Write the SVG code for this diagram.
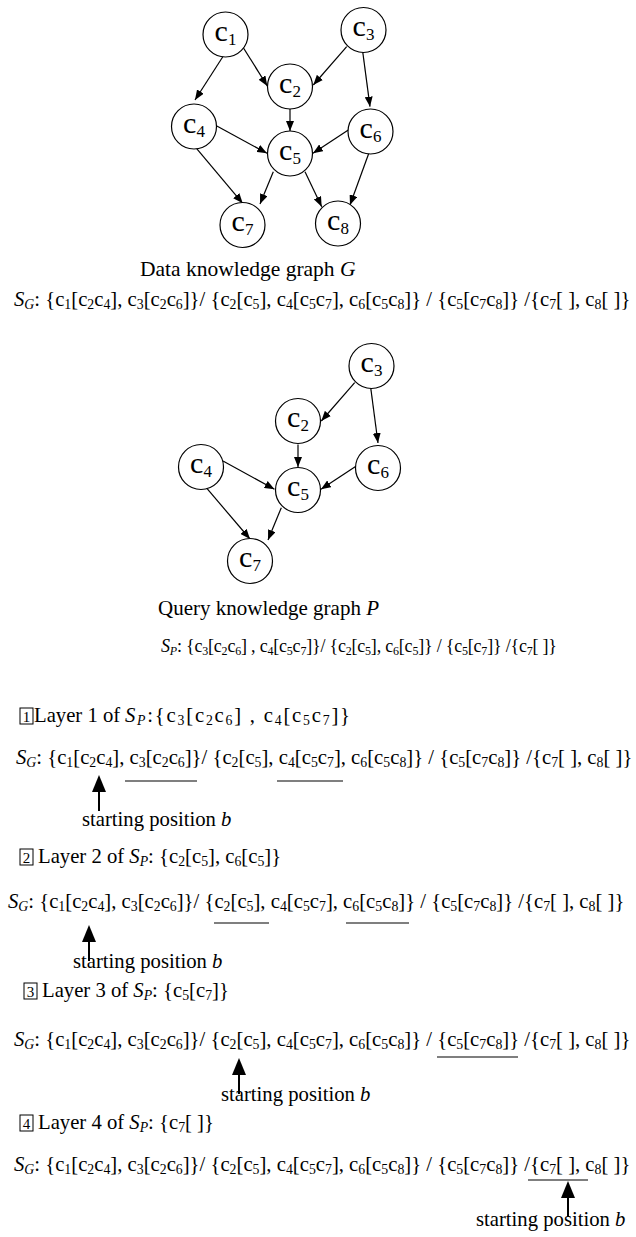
<svg xmlns="http://www.w3.org/2000/svg" width="636" height="1237" viewBox="0 0 636 1237" font-family="'Liberation Serif', 'Times New Roman', serif">
  <style>
    text, tspan { font-family: "Liberation Serif", "Times New Roman", serif; fill: #000; }
    .lbl { font-size: 30px; text-anchor: middle; }
    .ls { font-size: 17px; baseline-shift: -4px; }
    .ttl { font-size: 21.5px; }
    .ttq { font-size: 21px; }
    .t { font-size: 20.7px; }
    .tp { font-size: 18px; }
    .i { font-style: italic; }
    .s { font-size: 13.8px; baseline-shift: -3px; }
    .si { font-size: 13.8px; font-style: italic; baseline-shift: -3px; }
    .tp .s, .tp .si { font-size: 12px; baseline-shift: -2.6px; }
    .node circle { fill: #fff; stroke: #000; stroke-width: 1.2; }
    .edge { stroke: #000; stroke-width: 1.2; fill: none; marker-end: url(#arr); }
    .ul { stroke: #000; stroke-width: 1.2; }
    .bx { fill: none; stroke: #000; stroke-width: 1; }
    .bd { font-size: 15px; text-anchor: middle; }
    .ptr { stroke: #000; stroke-width: 2; fill: none; }
  </style>
  <defs>
    <marker id="arr" viewBox="0 0 10 8" refX="10" refY="4" markerWidth="10" markerHeight="8" markerUnits="userSpaceOnUse" orient="auto">
      <path d="M0,0 L10,4 L0,8 Z" fill="#000"/>
    </marker>
    <!-- upward pointer with a filled head -->
    <g id="ptr">
      <path d="M0,0 L7,17 L-7,17 Z" fill="#000"/>
      <line class="ptr" x1="0" y1="16" x2="0" y2="36"/>
    </g>
    <!-- S_G sequence, reused in every layer -->
    <text id="sg" class="t" x="0" y="0"><tspan class="i">S</tspan><tspan class="si">G</tspan>: {c<tspan class="s">1</tspan>[c<tspan class="s">2</tspan>c<tspan class="s">4</tspan>], c<tspan class="s">3</tspan>[c<tspan class="s">2</tspan>c<tspan class="s">6</tspan>]}/ {c<tspan class="s">2</tspan>[c<tspan class="s">5</tspan>], c<tspan class="s">4</tspan>[c<tspan class="s">5</tspan>c<tspan class="s">7</tspan>], c<tspan class="s">6</tspan>[c<tspan class="s">5</tspan>c<tspan class="s">8</tspan>]} / {c<tspan class="s">5</tspan>[c<tspan class="s">7</tspan>c<tspan class="s">8</tspan>]} /{c<tspan class="s">7</tspan>[ ], c<tspan class="s">8</tspan>[ ]}</text>
    <text id="sptr" class="t" x="0" y="0">starting position <tspan class="i">b</tspan></text>
  </defs>

  <!-- Data knowledge graph G -->
  <g id="connectors-G">
    <line class="edge" x1="223.3" y1="56" x2="195" y2="100"/>
    <line class="edge" x1="242.7" y1="46.7" x2="267.3" y2="86"/>
    <line class="edge" x1="346.7" y1="46.7" x2="313.3" y2="85"/>
    <line class="edge" x1="362.7" y1="51.7" x2="370" y2="106.7"/>
    <line class="edge" x1="290" y1="108.5" x2="290" y2="131"/>
    <line class="edge" x1="215" y1="125" x2="267" y2="153.3"/>
    <line class="edge" x1="348.3" y1="130" x2="313" y2="153.3"/>
    <line class="edge" x1="195" y1="146.7" x2="242.7" y2="203.3"/>
    <line class="edge" x1="273.3" y1="171.7" x2="260" y2="204"/>
    <line class="edge" x1="305" y1="171.7" x2="321.7" y2="206.7"/>
    <line class="edge" x1="370" y1="150" x2="350" y2="205"/>
  </g>
  <g id="G-c1" class="node"><circle cx="225.5" cy="34.5" r="22.5"/><text class="lbl" x="225.5" y="40.5">c<tspan class="ls">1</tspan></text></g>
  <g id="G-c2" class="node"><circle cx="290" cy="86.5" r="22.5"/><text class="lbl" x="290" y="92.5">c<tspan class="ls">2</tspan></text></g>
  <g id="G-c3" class="node"><circle cx="363.5" cy="30" r="22.5"/><text class="lbl" x="363.5" y="36">c<tspan class="ls">3</tspan></text></g>
  <g id="G-c4" class="node"><circle cx="194" cy="126.5" r="22.5"/><text class="lbl" x="194" y="132.5">c<tspan class="ls">4</tspan></text></g>
  <g id="G-c5" class="node"><circle cx="290" cy="153.5" r="22.5"/><text class="lbl" x="290" y="159.5">c<tspan class="ls">5</tspan></text></g>
  <g id="G-c6" class="node"><circle cx="370.5" cy="131.5" r="22.5"/><text class="lbl" x="370.5" y="137.5">c<tspan class="ls">6</tspan></text></g>
  <g id="G-c7" class="node"><circle cx="242.5" cy="225" r="22.5"/><text class="lbl" x="242.5" y="231">c<tspan class="ls">7</tspan></text></g>
  <g id="G-c8" class="node"><circle cx="338" cy="223.5" r="22.5"/><text class="lbl" x="338" y="229.5">c<tspan class="ls">8</tspan></text></g>
  <text class="ttl" x="140" y="276">Data knowledge graph <tspan class="i">G</tspan></text>
  <use href="#sg" x="14" y="306"/>

  <!-- Query knowledge graph P -->
  <g id="connectors-P">
    <line class="edge" x1="354.7" y1="382.7" x2="321.3" y2="421"/>
    <line class="edge" x1="370.7" y1="387.7" x2="378" y2="443"/>
    <line class="edge" x1="298" y1="444.5" x2="298" y2="467"/>
    <line class="edge" x1="223" y1="461" x2="274.5" y2="489.3"/>
    <line class="edge" x1="356.3" y1="466" x2="321" y2="489.3"/>
    <line class="edge" x1="202" y1="482.7" x2="250" y2="539"/>
    <line class="edge" x1="281.3" y1="507.7" x2="268" y2="540"/>
  </g>
  <g id="P-c3" class="node"><circle cx="371.5" cy="366" r="22.5"/><text class="lbl" x="371.5" y="372">c<tspan class="ls">3</tspan></text></g>
  <g id="P-c2" class="node"><circle cx="298" cy="421" r="22.5"/><text class="lbl" x="298" y="427">c<tspan class="ls">2</tspan></text></g>
  <g id="P-c4" class="node"><circle cx="201" cy="467" r="22.5"/><text class="lbl" x="201" y="473">c<tspan class="ls">4</tspan></text></g>
  <g id="P-c5" class="node"><circle cx="298" cy="490" r="22.5"/><text class="lbl" x="298" y="496">c<tspan class="ls">5</tspan></text></g>
  <g id="P-c6" class="node"><circle cx="378" cy="468" r="22.5"/><text class="lbl" x="378" y="474">c<tspan class="ls">6</tspan></text></g>
  <g id="P-c7" class="node"><circle cx="250" cy="561" r="22.5"/><text class="lbl" x="250" y="567">c<tspan class="ls">7</tspan></text></g>
  <text class="ttq" x="158" y="615">Query knowledge graph <tspan class="i">P</tspan></text>
  <text class="tp" x="161" y="652" textLength="396" lengthAdjust="spacing"><tspan class="i">S</tspan><tspan class="si">P</tspan>: {c<tspan class="s">3</tspan>[c<tspan class="s">2</tspan>c<tspan class="s">6</tspan>] , c<tspan class="s">4</tspan>[c<tspan class="s">5</tspan>c<tspan class="s">7</tspan>]}/ {c<tspan class="s">2</tspan>[c<tspan class="s">5</tspan>], c<tspan class="s">6</tspan>[c<tspan class="s">5</tspan>]} / {c<tspan class="s">5</tspan>[c<tspan class="s">7</tspan>]} /{c<tspan class="s">7</tspan>[ ]}</text>

  <!-- Layer 1 -->
  <g id="layer1">
    <rect class="bx" x="20" y="708" width="13" height="16"/><text class="bd" x="26.5" y="722">1</text>
    <text class="t" x="34" y="722">Layer 1 of </text>
    <text class="t" x="125" y="722" textLength="225" lengthAdjust="spacing"><tspan class="i">S</tspan><tspan class="si">P</tspan>:{c<tspan class="s">3</tspan>[c<tspan class="s">2</tspan>c<tspan class="s">6</tspan>] , c<tspan class="s">4</tspan>[c<tspan class="s">5</tspan>c<tspan class="s">7</tspan>]}</text>
    <use href="#sg" x="16" y="764"/>
    <line class="ul" x1="125" y1="781" x2="197" y2="781"/>
    <line class="ul" x1="277" y1="781" x2="343" y2="781"/>
    <use href="#ptr" x="99" y="775"/>
    <use href="#sptr" x="82" y="826"/>
  </g>

  <!-- Layer 2 -->
  <g id="layer2">
    <rect class="bx" x="20" y="849" width="13" height="16"/><text class="bd" x="26.5" y="863">2</text>
    <text class="t" x="38" y="863">Layer 2 of <tspan class="i">S</tspan><tspan class="si">P</tspan>: {c<tspan class="s">2</tspan>[c<tspan class="s">5</tspan>], c<tspan class="s">6</tspan>[c<tspan class="s">5</tspan>]}</text>
    <use href="#sg" x="8" y="908"/>
    <line class="ul" x1="214" y1="923" x2="269" y2="923"/>
    <line class="ul" x1="346" y1="923" x2="409" y2="923"/>
    <use href="#ptr" x="89" y="925"/>
    <use href="#sptr" x="73" y="968"/>
  </g>

  <!-- Layer 3 -->
  <g id="layer3">
    <rect class="bx" x="24" y="983" width="13" height="16"/><text class="bd" x="30.5" y="997">3</text>
    <text class="t" x="42" y="997">Layer 3 of <tspan class="i">S</tspan><tspan class="si">P</tspan>: {c<tspan class="s">5</tspan>[c<tspan class="s">7</tspan>]}</text>
    <use href="#sg" x="14" y="1046"/>
    <line class="ul" x1="437" y1="1057" x2="518" y2="1057"/>
    <use href="#ptr" x="239" y="1058"/>
    <use href="#sptr" x="221" y="1101"/>
  </g>

  <!-- Layer 4 -->
  <g id="layer4">
    <rect class="bx" x="20" y="1115" width="13" height="16"/><text class="bd" x="26.5" y="1129">4</text>
    <text class="t" x="38" y="1129">Layer 4 of <tspan class="i">S</tspan><tspan class="si">P</tspan>: {c<tspan class="s">7</tspan>[ ]}</text>
    <use href="#sg" x="14" y="1171"/>
    <line class="ul" x1="528" y1="1180" x2="588" y2="1180"/>
    <use href="#ptr" x="568" y="1181"/>
    <use href="#sptr" x="476" y="1226"/>
  </g>
</svg>
